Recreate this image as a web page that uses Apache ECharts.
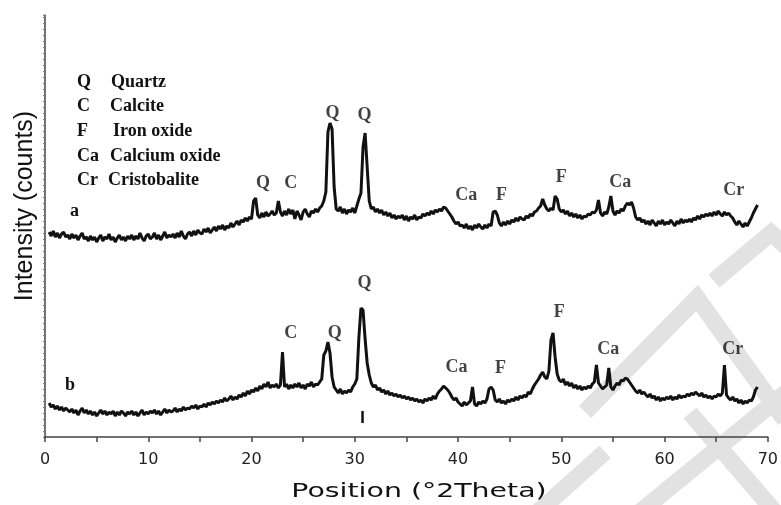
<!DOCTYPE html>
<html>
<head>
<meta charset="utf-8">
<script src="https://cdn.jsdelivr.net/npm/echarts@6/dist/echarts.min.js"></script>
<style>
  html, body { margin: 0; padding: 0; background: #fff; }
  #chart { width: 781px; height: 505px; }
</style>
</head>
<body>
<div id="chart"></div>
<script>
// 2theta sampling of both traces
const thetaStart = 0.4
const thetaStep = 0.2

// trace a (upper), arbitrary counts, one row = 2 degrees
const intensityA = [
  205,201,206,200,204,199,203,205,200,202,
  198,203,199,202,197,201,204,198,200,196,
  201,197,200,195,199,202,196,200,198,203,
  197,200,195,199,202,197,200,196,201,198,
  202,197,201,198,204,199,196,201,203,198,
  200,204,198,202,197,201,205,199,202,200,
  203,199,204,200,206,201,198,203,205,201,
  206,202,207,204,203,208,205,209,204,207,
  210,206,211,208,212,207,211,209,214,210,
  213,216,212,217,215,219,216,220,218,236,
  239,222,219,224,220,225,221,223,226,222,
  224,236,225,221,226,222,228,223,227,218,
  226,222,217,225,228,223,220,226,224,228,
  225,229,231,236,245,305,314,308,250,228,
  226,230,224,228,223,227,225,229,224,231,
  238,244,290,304,270,236,228,230,225,228,
  224,227,222,225,221,224,219,222,218,221,
  219,222,217,221,216,220,218,222,217,220,
  219,223,221,224,222,226,223,227,225,228,
  226,230,229,226,223,220,216,213,215,211,
  212,209,213,208,211,207,212,209,213,210,
  208,212,209,213,211,225,226,222,214,211,
  215,212,216,213,217,215,219,216,220,218,
  217,221,219,223,221,225,226,229,231,238,
  232,228,226,229,227,241,238,228,225,227,
  223,226,221,224,220,223,219,222,218,221,
  220,223,222,225,224,227,237,224,221,225,
  223,230,241,226,222,226,224,228,226,231,
  234,232,235,229,220,217,219,215,217,213,
  216,212,217,214,211,216,213,217,212,215,
  213,217,214,211,216,213,218,214,217,215,
  218,215,219,217,221,218,222,220,223,221,
  224,221,225,222,226,223,221,225,222,224,
  221,219,215,212,216,213,210,214,211,215,
  219,224,228,232
]

// trace b (lower)
const intensityB = [
  34,30,32,28,31,27,30,26,29,27,
  25,28,24,27,22,26,29,24,27,23,
  26,22,25,21,24,27,23,26,22,25,
  23,26,21,25,22,26,24,21,25,23,
  26,22,25,21,24,27,22,25,23,26,
  24,27,23,26,22,25,28,24,27,25,
  26,29,25,28,26,30,27,29,28,31,
  29,32,28,31,30,33,30,34,32,35,
  33,36,34,37,35,39,36,38,41,37,
  40,38,42,40,44,41,46,43,47,45,
  49,46,51,48,53,50,55,49,52,50,
  53,49,52,85,50,53,48,52,49,53,
  50,54,49,52,48,53,51,55,50,53,
  52,55,58,82,86,95,84,60,50,47,
  44,48,43,46,44,47,45,50,53,58,
  100,129,127,98,74,62,54,50,52,47,
  49,45,47,43,46,42,44,41,43,40,
  42,39,41,38,40,37,39,36,38,35,
  37,34,38,36,39,37,41,38,43,46,
  48,51,49,47,44,40,37,39,35,33,
  31,35,32,34,36,50,33,31,35,33,
  36,34,38,48,50,47,37,35,38,34,
  36,33,37,35,38,36,40,37,41,39,
  42,40,45,43,48,52,55,58,62,65,
  60,58,66,97,104,80,63,57,55,58,
  52,55,51,54,49,52,48,51,47,50,
  48,51,49,53,55,72,54,51,48,50,
  52,69,50,47,51,54,52,57,56,59,
  58,55,52,49,46,44,47,43,45,42,
  40,43,39,41,37,40,36,39,37,40,
  38,41,37,40,38,42,39,41,40,43,
  41,44,42,45,43,41,44,40,42,39,
  41,38,41,40,43,41,44,72,42,39,
  37,40,36,38,34,37,33,36,34,37,
  36,40,47,50
]

// small stray stroke under the main quartz peak of b
const strayMark = [[30.75, 14], [30.75, 26]]

// peak labels [2theta, counts, text]
const peaksA = [
  [21.1, 254, 'Q'], [23.8, 254, 'C'], [27.85, 324, 'Q'], [30.95, 322, 'Q'],
  [40.8, 242, 'Ca'], [44.2, 242, 'F'], [50.0, 260, 'F'], [55.7, 255, 'Ca'], [66.7, 247, 'Cr']
]
const peaksB = [
  [23.8, 104, 'C'], [28.05, 104, 'Q'], [30.95, 154, 'Q'], [39.85, 70, 'Ca'],
  [44.1, 69, 'F'], [49.8, 125, 'F'], [54.55, 88, 'Ca'], [66.6, 88, 'Cr']
]

// phase key
const keyCodes = ['Q', 'C', 'F', 'Ca', 'Cr']
const keyNames = ['Quartz', 'Calcite', 'Iron oxide', 'Calcium oxide', 'Cristobalite']

const toPairs = arr => arr.map((v, i) => [+(thetaStart + i * thetaStep).toFixed(1), v])

const serif = '"Liberation Serif", "Times New Roman", serif'
const sans = '"Liberation Sans", Arial, sans-serif'

const keyText = []
const keyNameX = [111, 110, 113, 110, 108]
keyCodes.forEach((c, i) => {
  keyText.push({
    type: 'text', left: 77, top: 73 + i * 24.7,
    style: { text: c, font: 'bold 18px ' + serif, fill: '#111' }
  })
  keyText.push({
    type: 'text', left: keyNameX[i], top: 73 + i * 24.7,
    style: { text: keyNames[i], font: 'bold 18px ' + serif, fill: '#111' }
  })
})

const wm = { stroke: '#e2e2e2', lineWidth: 17, fill: null, lineJoin: 'miter' }
const watermark = [
  [[585, 412], [697, 298], [785, 420]],
  [[538, 512], [605, 452]],
  [[640, 512], [790, 389]],
  [[690, 413], [775, 512]],
  [[714, 281], [771, 233], [790, 250]]
].map(pts => ({ type: 'polyline', z: -10, silent: true, shape: { points: pts }, style: wm }))

const chart = echarts.init(document.getElementById('chart'))

chart.setOption({
  animation: false,
  backgroundColor: '#fff',
  grid: { left: 45, right: 12, top: 15, bottom: 68 },
  xAxis: {
    type: 'value',
    min: 0,
    max: 70,
    interval: 10,
    axisLine: { lineStyle: { color: '#444', width: 1.5 } },
    axisTick: { length: 5, lineStyle: { color: '#444', width: 1.5 } },
    minorTick: { show: true, splitNumber: 2, length: 5, lineStyle: { color: '#444', width: 1.5 } },
    splitLine: { show: false },
    axisLabel: { fontFamily: '"DejaVu Sans", sans-serif', fontSize: 16, color: '#222', margin: 15 }
  },
  yAxis: {
    type: 'value',
    min: 0,
    max: 422,
    interval: 6,
    axisLine: { show: true, lineStyle: { color: '#444', width: 1.5 } },
    axisTick: { show: true, length: 2, lineStyle: { color: '#777' } },
    axisLabel: { show: false },
    splitLine: { show: false }
  },
  graphic: [
    ...watermark,
    ...keyText,
    { type: 'text', left: 70, top: 202, style: { text: 'a', font: 'bold 18px ' + serif, fill: '#111' } },
    { type: 'text', left: 65, top: 376, style: { text: 'b', font: 'bold 18px ' + serif, fill: '#111' } },
    {
      type: 'text', x: 25, y: 206, rotation: Math.PI / 2,
      style: { text: 'Intensity (counts)', font: '25px ' + sans, fill: '#111', align: 'center', verticalAlign: 'middle' }
    },
    {
      type: 'text', x: 419, y: 492, scaleX: 1.42,
      style: { text: 'Position (°2Theta)', font: '20px "DejaVu Sans", sans-serif', fill: '#111', align: 'center', verticalAlign: 'middle' }
    }
  ],
  series: [
    {
      name: 'a', type: 'line', data: toPairs(intensityA), showSymbol: false,
      lineStyle: { color: '#111', width: 3 }, z: 3
    },
    {
      name: 'b', type: 'line', data: toPairs(intensityB), showSymbol: false,
      lineStyle: { color: '#111', width: 3 }, z: 3
    },
    {
      name: 'mark', type: 'line', data: strayMark, showSymbol: false,
      lineStyle: { color: '#111', width: 2.5 }
    },
    {
      name: 'labels', type: 'scatter', symbolSize: 0, z: 4,
      data: peaksA.concat(peaksB),
      label: {
        show: true, position: 'inside', formatter: p => p.value[2],
        fontFamily: serif, fontWeight: 'bold', fontSize: 18, color: '#111'
      }
    }
  ]
})
</script>
</body>
</html>
